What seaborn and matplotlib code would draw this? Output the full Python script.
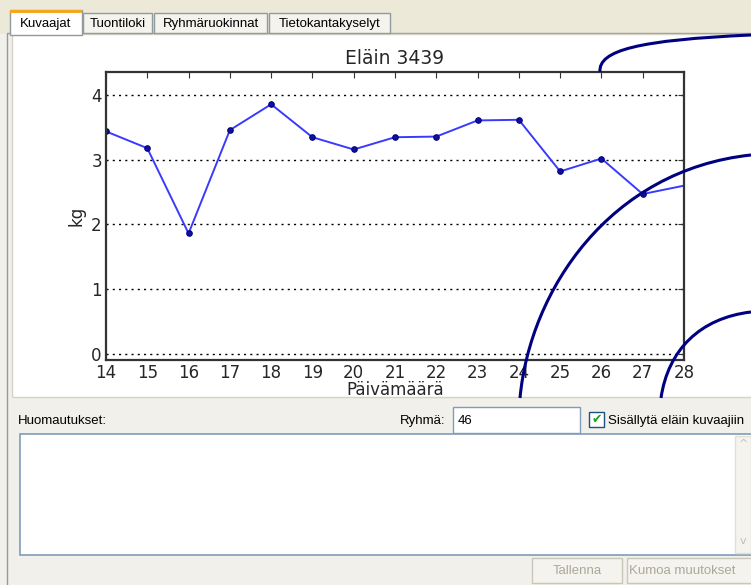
import matplotlib
matplotlib.use("Agg")
import matplotlib.pyplot as plt
import seaborn as sns
import pandas as pd
from matplotlib.patches import Rectangle, PathPatch
from matplotlib.path import Path

# data
days = [14, 15, 16, 17, 18, 19, 20, 21, 22, 23, 24, 25, 26, 27, 28]
weights = [3.44, 3.18, 1.86, 3.46, 3.86, 3.35, 3.16, 3.35, 3.36, 3.61, 3.62, 2.82, 3.02, 2.47, 2.60]
grid_days = [16, 20, 23, 27]
yticks = [0, 1, 2, 3, 4]
tabs = ["Kuvaajat", "Tuontiloki", "Ryhmäruokinnat", "Tietokantakyselyt"]

sns.set_style("white")
plt.rcParams['font.family'] = ['DejaVu Sans']

W, H = 751, 585
fig = plt.figure(figsize=(W / 100, H / 100), dpi=100)
fig.patch.set_facecolor("#f1f0ea")

# ---- window chrome drawn in pixel coordinates ----
bg = fig.add_axes([0, 0, 1, 1], zorder=0)
bg.set_xlim(0, W)
bg.set_ylim(H, 0)
bg.axis("off")

def box(x, y, w, h, fc, ec="none", lw=1, z=1):
    bg.add_patch(Rectangle((x, y), w, h, facecolor=fc, edgecolor=ec, linewidth=lw, zorder=z))

box(0, 0, W, 34, "#ece9d8")
box(7, 33, W, H, "#f1f0ea", ec="#919b9c")
box(12, 34, W, 363, "white", ec="#d6d3c6")

gui_font = dict(family="Liberation Sans", fontsize=9.5, color="black")
tab_x = [10, 83, 154, 269]
tab_w = [72, 69, 113, 121]
for i, (t, x, w) in enumerate(zip(tabs, tab_x, tab_w)):
    if i == 0:
        box(x, 10, w, 25, "white", ec="#919b9c", z=3)
        box(x, 10, w, 3, "#f5a623", z=4)
        bg.text(x + w / 2, 24, t, ha="center", va="center", zorder=5, **gui_font)
    else:
        box(x, 13, w, 20, "#f4f3ee", ec="#919b9c", z=2)
        bg.text(x + w / 2, 24, t, ha="center", va="center", zorder=5, **gui_font)

bg.text(18, 421, "Huomautukset:", ha="left", va="center", **gui_font)
bg.text(445, 421, "Ryhmä:", ha="right", va="center", **gui_font)
box(453, 407, 127, 26, "white", ec="#7f9db9")
bg.text(458, 421, "46", ha="left", va="center", **gui_font)
box(589, 412, 15, 15, "white", ec="#1c5180")
bg.text(596.5, 420, "✔", ha="center", va="center", color="#21a121", fontsize=9, family="DejaVu Sans")
bg.text(608, 421, "Sisällytä eläin kuvaajiin", ha="left", va="center", **gui_font)
box(20, 434, 740, 121, "white", ec="#7f9db9", lw=1.2)
box(735, 436, 16, 117, "#f4f3ee", ec="#e0dfd8")
bg.text(743, 444, "^", ha="center", va="center", color="#c0c0b8", fontsize=8)
bg.text(743, 541, "v", ha="center", va="center", color="#c0c0b8", fontsize=8)
box(532, 558, 90, 25, "#f4f3ee", ec="#c9c7ba")
bg.text(577, 571, "Tallenna", ha="center", va="center", family="Liberation Sans", fontsize=9.5, color="#aca899")
box(627, 558, 130, 25, "#f4f3ee", ec="#c9c7ba")
bg.text(629, 571, "Kumoa muutokset", ha="left", va="center", family="Liberation Sans", fontsize=9.5, color="#aca899")

# ---- the chart ----
ax = fig.add_axes([106 / W, 1 - 360 / H, (684 - 106) / W, (360 - 72) / H], zorder=2)
df = pd.DataFrame({"day": days, "kg": weights})
sns.lineplot(data=df, x="day", y="kg", ax=ax, color="#3a3aff", linewidth=1.4,
             marker="o", markersize=4, markerfacecolor="#1010a0", markeredgecolor="#00007a",
             markevery=list(range(len(days) - 1)))
ax.set_xlim(14, 28)
ax.set_ylim(-0.1, 4.36)
ax.set_xticks(days)
ax.set_xticklabels([str(d) for d in days], fontsize=12)
ax.set_xticks(grid_days, minor=True)
ax.set_yticks(yticks)
ax.set_yticklabels([str(v) for v in yticks], fontsize=12)
ax.tick_params(which="major", direction="in", length=4, top=True, right=True, pad=3, color="#333333")
ax.tick_params(which="minor", length=0)
ax.grid(False)
ax.grid(True, which="minor", axis="x", color="black", linestyle=(0, (1.5, 3)), linewidth=1)
ax.grid(True, which="major", axis="y", color="black", linestyle=(0, (1.5, 3)), linewidth=1)
for s in ax.spines.values():
    s.set_color("#333333")
    s.set_linewidth(1.6)
ax.set_title("Eläin 3439", fontsize=13.5, pad=6)
ax.set_xlabel("Päivämäärä", fontsize=12, labelpad=-1)
ax.set_ylabel("kg", fontsize=12, labelpad=4)

# ---- hand drawn annotation strokes on top ----
ov = fig.add_axes([0, 0, 1, 1], zorder=5)
ov.set_xlim(0, W)
ov.set_ylim(H, 0)
ov.axis("off")
ov.patch.set_alpha(0)
strokes = [
    [(600, 72), (598, 50), (640, 40), (751, 35)],
    [(520, 398), (530, 290), (610, 170), (751, 155)],
    [(661, 398), (668, 350), (700, 318), (751, 312)],
]
for pts in strokes:
    p = Path(pts, [Path.MOVETO, Path.CURVE4, Path.CURVE4, Path.CURVE4])
    ov.add_patch(PathPatch(p, facecolor="none", edgecolor="#000080", linewidth=2.2))

fig.savefig("out.png", dpi=100)
